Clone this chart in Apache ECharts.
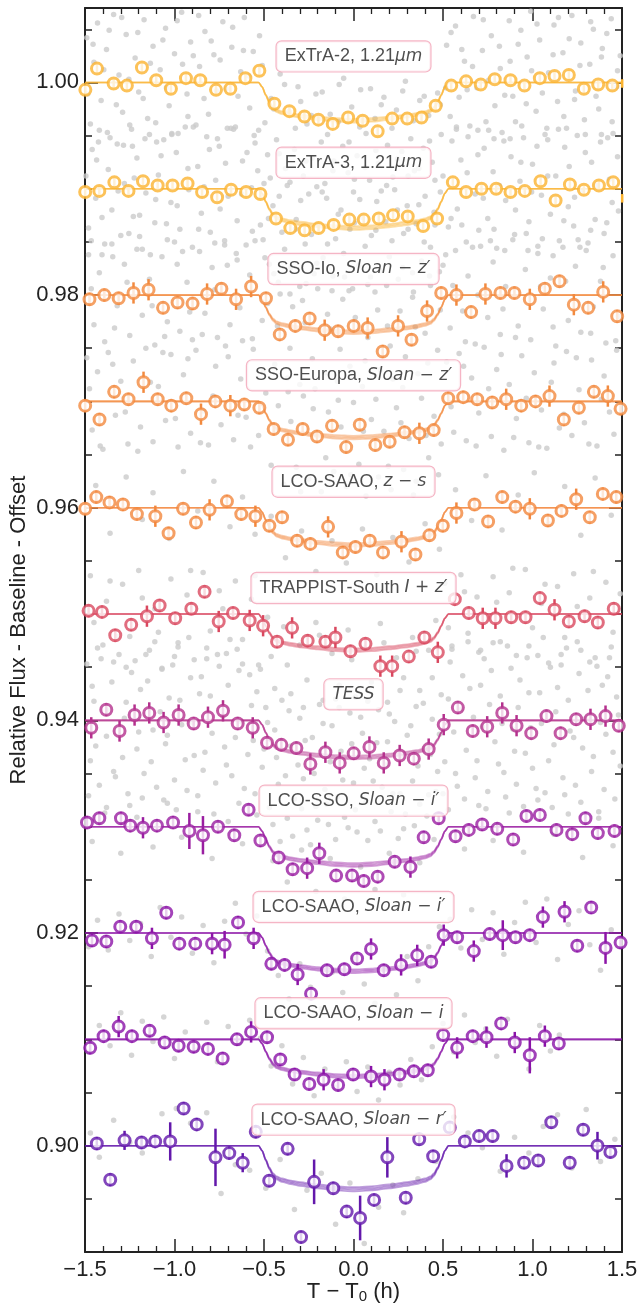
<!DOCTYPE html>
<html><head><meta charset="utf-8">
<script src="https://cdn.jsdelivr.net/npm/echarts@6/dist/echarts.min.js"></script>
<style>html,body{margin:0;padding:0;background:#fff}#c{width:638px;height:1304px}</style>
</head><body><div id="c"></div>
<script>
// ---------------- DATA ----------------
const xTickRange = [-1.5, 1.5];
const yLabelTicks = [0.90, 0.92, 0.94, 0.96, 0.98, 1.00];

const extra2T = [-1.498,-1.433,-1.340,-1.266,-1.182,-1.102,-1.020,-0.936,-0.856,-0.768,-0.688,-0.604,-0.526,-0.442,-0.358,-0.274,-0.196,-0.116,-0.030,0.051,0.135,0.216,0.300,0.380,0.459,0.546,0.629,0.711,0.789,0.877,0.955,1.041,1.123,1.203,1.287,1.367,1.446,1.501];
const extra2F = [0.9993,1.0013,0.9999,0.9997,1.0014,1.0002,0.9994,1.0004,1.0002,0.9993,0.9994,1.0004,1.0011,0.9980,0.9973,0.9968,0.9965,0.9961,0.9967,0.9964,0.9954,0.9966,0.9966,0.9967,0.9978,0.9997,1.0001,0.9998,1.0003,1.0002,0.9997,1.0004,1.0006,1.0007,0.9994,0.9998,0.9997,0.9999];
const extra2E = [0.0004,0.0004,0.0004,0.0004,0.0004,0.0004,0.0004,0.0004,0.0004,0.0004,0.0004,0.0004,0.0004,0.0004,0.0004,0.0004,0.0004,0.0004,0.0004,0.0004,0.0004,0.0004,0.0004,0.0004,0.0004,0.0004,0.0004,0.0004,0.0004,0.0004,0.0004,0.0004,0.0004,0.0004,0.0004,0.0004,0.0004,0.0004];

const extra3T = [-1.499,-1.420,-1.336,-1.257,-1.176,-1.094,-1.011,-0.927,-0.846,-0.762,-0.684,-0.600,-0.520,-0.433,-0.353,-0.273,-0.195,-0.111,-0.023,0.057,0.141,0.221,0.303,0.389,0.467,0.555,0.629,0.715,0.797,0.877,0.957,1.045,1.129,1.209,1.287,1.371,1.451,1.501];
const extra3F = [0.9897,0.9898,0.9906,0.9898,0.9907,0.9903,0.9903,0.9905,0.9897,0.9892,0.9899,0.9897,0.9895,0.9872,0.9863,0.9861,0.9863,0.9866,0.9871,0.9871,0.9872,0.9875,0.9874,0.9865,0.9872,0.9906,0.9897,0.9900,0.9900,0.9897,0.9898,0.9907,0.9889,0.9904,0.9899,0.9903,0.9906,0.9891];
const extra3E = [0.0004,0.0004,0.0004,0.0004,0.0004,0.0004,0.0004,0.0004,0.0004,0.0004,0.0004,0.0004,0.0004,0.0004,0.0004,0.0004,0.0004,0.0004,0.0004,0.0004,0.0004,0.0004,0.0004,0.0004,0.0004,0.0004,0.0004,0.0004,0.0004,0.0004,0.0004,0.0004,0.0004,0.0004,0.0004,0.0004,0.0004,0.0004];

const ioT = [-1.475,-1.392,-1.312,-1.229,-1.145,-1.064,-0.983,-0.899,-0.818,-0.738,-0.656,-0.572,-0.489,-0.412,-0.325,-0.245,-0.161,-0.086,0.001,0.079,0.163,0.249,0.324,0.411,0.490,0.575,0.657,0.737,0.821,0.899,0.985,1.069,1.151,1.231,1.311,1.395,1.473];
const ioF = [0.9796,0.9800,0.9797,0.9802,0.9805,0.9788,0.9793,0.9792,0.9801,0.9806,0.9796,0.9808,0.9797,0.9763,0.9771,0.9778,0.9767,0.9766,0.9771,0.9769,0.9747,0.9771,0.9758,0.9785,0.9802,0.9800,0.9784,0.9801,0.9802,0.9802,0.9796,0.9806,0.9813,0.9791,0.9788,0.9803,0.9780];
const ioE = [0.0006,0.0006,0.0006,0.0010,0.0010,0.0006,0.0006,0.0006,0.0010,0.0006,0.0010,0.0010,0.0006,0.0006,0.0006,0.0006,0.0010,0.0006,0.0006,0.0010,0.0006,0.0010,0.0006,0.0010,0.0006,0.0010,0.0006,0.0010,0.0006,0.0006,0.0010,0.0006,0.0006,0.0010,0.0006,0.0010,0.0006];

const europaT = [-1.499,-1.419,-1.337,-1.257,-1.173,-1.094,-1.018,-0.934,-0.852,-0.772,-0.688,-0.610,-0.526,-0.446,-0.366,-0.284,-0.204,-0.120,-0.041,0.035,0.122,0.202,0.285,0.368,0.448,0.529,0.613,0.691,0.775,0.853,0.937,1.017,1.095,1.175,1.259,1.343,1.421,1.492];
const europaF = [0.9696,0.9683,0.9709,0.9702,0.9718,0.9702,0.9696,0.9703,0.9688,0.9700,0.9696,0.9697,0.9694,0.9674,0.9664,0.9674,0.9667,0.9677,0.9657,0.9678,0.9659,0.9662,0.9671,0.9670,0.9673,0.9703,0.9704,0.9702,0.9699,0.9702,0.9696,0.9700,0.9705,0.9683,0.9694,0.9709,0.9705,0.9693];
const europaE = [0.0006,0.0006,0.0006,0.0006,0.0010,0.0006,0.0006,0.0006,0.0010,0.0006,0.0010,0.0006,0.0006,0.0006,0.0006,0.0006,0.0006,0.0006,0.0006,0.0006,0.0006,0.0006,0.0006,0.0010,0.0006,0.0006,0.0006,0.0006,0.0006,0.0010,0.0006,0.0006,0.0010,0.0006,0.0006,0.0006,0.0010,0.0006];

const zsT = [-1.499,-1.437,-1.363,-1.288,-1.210,-1.107,-1.033,-0.952,-0.880,-0.804,-0.707,-0.627,-0.548,-0.470,-0.399,-0.315,-0.241,-0.142,-0.060,0.011,0.091,0.165,0.268,0.346,0.424,0.499,0.575,0.676,0.752,0.831,0.905,0.985,1.086,1.162,1.244,1.320,1.393,1.468];
const zsF = [0.9599,0.9610,0.9605,0.9603,0.9594,0.9592,0.9576,0.9599,0.9586,0.9598,0.9606,0.9594,0.9592,0.9583,0.9591,0.9569,0.9566,0.9582,0.9558,0.9563,0.9569,0.9558,0.9568,0.9556,0.9574,0.9583,0.9595,0.9603,0.9587,0.9610,0.9601,0.9599,0.9588,0.9597,0.9608,0.9591,0.9613,0.9610];
const zsE = [0.0006,0.0006,0.0006,0.0006,0.0006,0.0010,0.0006,0.0006,0.0006,0.0010,0.0006,0.0006,0.0010,0.0006,0.0006,0.0006,0.0006,0.0010,0.0006,0.0006,0.0006,0.0006,0.0010,0.0006,0.0006,0.0006,0.0010,0.0006,0.0006,0.0006,0.0006,0.0010,0.0006,0.0006,0.0010,0.0006,0.0006,0.0006];

const trapT = [-1.480,-1.405,-1.331,-1.242,-1.154,-1.083,-0.996,-0.906,-0.832,-0.753,-0.673,-0.580,-0.505,-0.427,-0.343,-0.256,-0.157,-0.101,-0.017,0.067,0.150,0.216,0.309,0.396,0.471,0.566,0.644,0.722,0.793,0.881,0.961,1.041,1.123,1.203,1.291,1.365,1.454];
const trapF = [0.9503,0.9502,0.9480,0.9490,0.9498,0.9508,0.9496,0.9505,0.9521,0.9493,0.9501,0.9494,0.9489,0.9474,0.9487,0.9475,0.9474,0.9478,0.9465,0.9472,0.9451,0.9451,0.9460,0.9478,0.9464,0.9514,0.9501,0.9496,0.9496,0.9497,0.9497,0.9515,0.9504,0.9493,0.9498,0.9492,0.9505];
const trapE = [0.0006,0.0006,0.0006,0.0006,0.0010,0.0006,0.0006,0.0006,0.0006,0.0010,0.0006,0.0010,0.0010,0.0006,0.0010,0.0006,0.0006,0.0010,0.0006,0.0006,0.0010,0.0010,0.0006,0.0006,0.0010,0.0006,0.0006,0.0010,0.0010,0.0006,0.0006,0.0006,0.0010,0.0006,0.0006,0.0006,0.0006];

const tessT = [-1.465,-1.381,-1.307,-1.223,-1.141,-1.061,-0.977,-0.893,-0.813,-0.729,-0.647,-0.563,-0.483,-0.403,-0.319,-0.241,-0.157,-0.077,0.001,0.089,0.169,0.258,0.337,0.420,0.504,0.583,0.666,0.747,0.831,0.911,0.993,1.078,1.157,1.244,1.324,1.408,1.482];
const tessF = [0.9393,0.9410,0.9390,0.9405,0.9407,0.9398,0.9405,0.9397,0.9403,0.9409,0.9397,0.9393,0.9379,0.9377,0.9374,0.9359,0.9370,0.9360,0.9369,0.9375,0.9360,0.9367,0.9364,0.9373,0.9396,0.9412,0.9390,0.9394,0.9407,0.9395,0.9388,0.9404,0.9388,0.9401,0.9401,0.9404,0.9395];
const tessE = [0.0010,0.0006,0.0010,0.0010,0.0010,0.0010,0.0010,0.0006,0.0010,0.0010,0.0006,0.0010,0.0006,0.0006,0.0006,0.0010,0.0010,0.0010,0.0006,0.0010,0.0010,0.0010,0.0006,0.0010,0.0010,0.0006,0.0006,0.0010,0.0010,0.0010,0.0006,0.0006,0.0006,0.0006,0.0010,0.0010,0.0006];

const ssoT = [-1.489,-1.420,-1.299,-1.247,-1.176,-1.098,-1.008,-0.917,-0.841,-0.757,-0.666,-0.586,-0.520,-0.418,-0.340,-0.259,-0.191,-0.097,-0.008,0.057,0.135,0.230,0.318,0.392,0.476,0.570,0.644,0.719,0.803,0.892,0.966,1.041,1.134,1.222,1.296,1.365,1.458];
const ssoF = [0.9304,0.9308,0.9308,0.9301,0.9299,0.9301,0.9304,0.9296,0.9292,0.9300,0.9292,0.9316,0.9287,0.9271,0.9260,0.9261,0.9275,0.9254,0.9254,0.9249,0.9253,0.9267,0.9262,0.9290,0.9308,0.9291,0.9297,0.9302,0.9298,0.9288,0.9310,0.9311,0.9297,0.9293,0.9308,0.9294,0.9296];
const ssoE = [0.0006,0.0006,0.0006,0.0006,0.0010,0.0006,0.0006,0.0017,0.0018,0.0006,0.0006,0.0006,0.0006,0.0006,0.0006,0.0010,0.0010,0.0006,0.0006,0.0006,0.0006,0.0006,0.0010,0.0006,0.0006,0.0006,0.0006,0.0006,0.0006,0.0006,0.0006,0.0006,0.0006,0.0006,0.0006,0.0006,0.0006];

const saaoIpT = [-1.461,-1.381,-1.303,-1.214,-1.126,-1.046,-0.973,-0.884,-0.790,-0.720,-0.645,-0.558,-0.459,-0.385,-0.312,-0.237,-0.148,-0.051,0.020,0.098,0.169,0.266,0.356,0.434,0.504,0.579,0.672,0.761,0.834,0.905,0.985,1.058,1.179,1.250,1.328,1.408,1.492];
const saaoIpF = [0.9193,0.9192,0.9206,0.9206,0.9195,0.9219,0.9190,0.9190,0.9190,0.9189,0.9210,0.9195,0.9171,0.9170,0.9161,0.9143,0.9165,0.9166,0.9176,0.9185,0.9165,0.9170,0.9179,0.9173,0.9198,0.9196,0.9183,0.9199,0.9198,0.9196,0.9198,0.9215,0.9220,0.9188,0.9224,0.9186,0.9191];
const saaoIpE = [0.0006,0.0006,0.0006,0.0006,0.0010,0.0006,0.0006,0.0006,0.0010,0.0013,0.0006,0.0010,0.0006,0.0006,0.0010,0.0006,0.0006,0.0006,0.0006,0.0010,0.0006,0.0010,0.0010,0.0006,0.0010,0.0006,0.0010,0.0006,0.0014,0.0006,0.0006,0.0010,0.0010,0.0006,0.0006,0.0015,0.0006];

const saaoIT = [-1.471,-1.396,-1.312,-1.238,-1.139,-1.055,-0.977,-0.893,-0.813,-0.731,-0.651,-0.572,-0.483,-0.409,-0.329,-0.247,-0.167,-0.086,-0.002,0.098,0.173,0.257,0.337,0.415,0.501,0.579,0.666,0.743,0.825,0.901,0.985,1.069,1.147];
const saaoIF = [0.9092,0.9103,0.9112,0.9103,0.9108,0.9097,0.9094,0.9093,0.9091,0.9082,0.9100,0.9107,0.9102,0.9081,0.9067,0.9058,0.9062,0.9057,0.9067,0.9065,0.9062,0.9067,0.9070,0.9071,0.9104,0.9092,0.9103,0.9102,0.9115,0.9097,0.9085,0.9103,0.9096];
const saaoIE = [0.0006,0.0006,0.0010,0.0006,0.0006,0.0006,0.0006,0.0006,0.0006,0.0006,0.0006,0.0010,0.0006,0.0006,0.0006,0.0006,0.0010,0.0006,0.0006,0.0010,0.0010,0.0006,0.0006,0.0006,0.0006,0.0010,0.0006,0.0010,0.0006,0.0010,0.0017,0.0010,0.0006];

const saaoRT = [-1.434,-1.359,-1.279,-1.184,-1.108,-1.024,-0.949,-0.876,-0.771,-0.694,-0.619,-0.546,-0.471,-0.368,-0.293,-0.220,-0.113,-0.038,0.037,0.115,0.189,0.292,0.367,0.445,0.538,0.622,0.702,0.777,0.855,0.953,1.032,1.105,1.208,1.283,1.363,1.435];
const saaoRF = [0.9002,0.8968,0.9005,0.9003,0.9004,0.9004,0.9035,0.9020,0.8989,0.8993,0.8984,0.9013,0.8967,0.8997,0.8914,0.8966,0.8960,0.8938,0.8932,0.8949,0.8989,0.8951,0.9006,0.8990,0.9017,0.9004,0.9009,0.9009,0.8981,0.8984,0.8986,0.9022,0.8984,0.9015,0.9000,0.8994];
const saaoRE = [0.0006,0.0006,0.0009,0.0006,0.0006,0.0018,0.0006,0.0006,0.0027,0.0006,0.0009,0.0006,0.0006,0.0006,0.0006,0.0021,0.0006,0.0006,0.0021,0.0006,0.0019,0.0006,0.0006,0.0006,0.0006,0.0006,0.0006,0.0006,0.0011,0.0006,0.0006,0.0006,0.0006,0.0006,0.0013,0.0006];

// unbinned (grey) points [t, flux]
const extra2Gray = [[-1.49,1.0042],[-1.47,0.9961],[-1.45,1.0019],[-1.43,1.0056],[-1.41,0.9983],[-1.38,1.0031],[-1.36,0.9948],[-1.34,1.0064],[-1.31,1.0007],[-1.29,0.9972],[-1.27,1.0045],[-1.24,0.9956],[-1.22,1.0023],[-1.20,0.9991],[-1.17,1.0059],[-1.15,0.9966],[-1.12,1.0034],[-1.10,0.9944],[-1.08,1.0012],[-1.05,1.0051],[-1.03,0.9978],[-1.00,1.0027],[-0.98,0.9952],[-0.96,1.0066],[-0.93,0.9989],[-0.91,1.0038],[-0.88,0.9960],[-0.86,1.0015],[-0.83,1.0048],[-0.81,0.9970],[-0.78,1.0026],[-0.76,0.9947],[-0.73,1.0057],[-0.71,0.9994],[-0.68,1.0033],[-0.66,0.9958],[-0.63,1.0010],[-0.61,1.0061],[-0.58,0.9976],[-0.56,1.0029],[-0.53,0.9955],[-0.51,1.0016],[-0.48,0.9932],[-0.46,0.9985],[-0.43,0.9946],[-0.41,1.0008],[-0.38,0.9919],[-0.36,0.9973],[-0.33,0.9937],[-0.31,0.9996],[-0.28,0.9912],[-0.26,0.9961],[-0.23,0.9929],[-0.21,0.9989],[-0.18,0.9944],[-0.16,0.9905],[-0.13,0.9970],[-0.11,0.9926],[-0.08,0.9998],[-0.06,0.9940],[-0.03,0.9915],[-0.01,0.9977],[0.02,0.9931],[0.04,0.9993],[0.07,0.9952],[0.09,0.9908],[0.12,0.9966],[0.14,0.9924],[0.17,0.9986],[0.19,0.9941],[0.22,0.9911],[0.24,0.9974],[0.27,0.9935],[0.29,1.0001],[0.32,0.9947],[0.34,0.9917],[0.37,0.9983],[0.39,0.9938],[0.42,0.9969],[0.44,0.9925],[0.47,0.9990],[0.49,0.9951],[0.52,1.0035],[0.54,0.9968],[0.57,1.0053],[0.59,0.9986],[0.62,1.0020],[0.64,0.9949],[0.67,1.0062],[0.69,0.9995],[0.72,1.0030],[0.74,0.9963],[0.77,1.0044],[0.79,0.9978],[0.82,1.0013],[0.84,0.9945],[0.87,1.0058],[0.89,0.9987],[0.92,1.0036],[0.94,0.9959],[0.97,1.0024],[0.99,1.0067],[1.02,0.9973],[1.04,1.0040],[1.07,0.9951],[1.09,1.0009],[1.12,1.0054],[1.14,0.9982],[1.17,1.0028],[1.19,0.9957],[1.22,1.0063],[1.24,0.9992],[1.27,1.0037],[1.29,0.9965],[1.32,1.0017],[1.34,1.0050],[1.37,0.9975],[1.39,1.0032],[1.42,0.9948],[1.44,1.0060],[1.47,0.9996],[1.49,1.0025]];
const extra2Gray2 = [[-1.485,0.9989],[-1.455,1.0036],[-1.425,0.9944],[-1.395,1.0012],[-1.365,1.0049],[-1.325,0.9979],[-1.295,1.0061],[-1.255,1.0003],[-1.235,0.9940],[-1.205,1.0047],[-1.175,0.9985],[-1.135,1.0018],[-1.105,0.9962],[-1.065,1.0040],[-1.045,0.9995],[-1.015,0.9951],[-0.985,1.0058],[-0.955,1.0017],[-0.925,0.9968],[-0.895,1.0025],[-0.865,1.0063],[-0.835,0.9985],[-0.795,1.0039],[-0.765,0.9992],[-0.745,1.0021],[-0.705,0.9957],[-0.675,1.0052],[-0.645,0.9987],[-0.615,1.0030],[-0.585,1.0006],[-0.555,0.9950],[-0.525,1.0044],[-0.495,0.9962],[-0.465,0.9910],[-0.445,0.9975],[-0.415,0.9933],[-0.385,0.9998],[-0.355,0.9906],[-0.325,0.9957],[-0.295,0.9982],[-0.265,0.9926],[-0.235,0.9969],[-0.205,0.9902],[-0.175,0.9991],[-0.145,0.9951],[-0.115,0.9917],[-0.085,0.9963],[-0.055,1.0004],[-0.025,0.9944],[0.005,0.9909],[0.035,0.9958],[0.065,0.9920],[0.095,0.9994],[0.125,0.9936],[0.155,0.9979],[0.185,0.9903],[0.215,0.9957],[0.245,0.9928],[0.275,0.9992],[0.305,0.9912],[0.335,0.9964],[0.365,0.9919],[0.395,0.9987],[0.425,0.9945],[0.455,0.9908],[0.485,0.9979],[0.515,0.9995],[0.545,1.0047],[0.575,0.9958],[0.605,1.0031],[0.635,0.9993],[0.665,1.0015],[0.695,0.9955],[0.725,1.0059],[0.755,1.0002],[0.785,0.9947],[0.815,1.0034],[0.845,0.9988],[0.875,1.0020],[0.905,0.9963],[0.935,1.0049],[0.965,0.9980],[0.995,1.0011],[1.025,1.0055],[1.055,0.9990],[1.085,0.9946],[1.115,1.0026],[1.145,1.0061],[1.175,0.9968],[1.205,1.0041],[1.235,0.9984],[1.265,1.0016],[1.295,0.9951],[1.325,1.0057],[1.355,0.9987],[1.385,1.0024],[1.415,1.0046],[1.445,0.9963],[1.475,1.0011]];
const extra3Gray = [[-1.48,0.9863],[-1.46,0.9937],[-1.44,0.9891],[-1.42,0.9955],[-1.39,0.9848],[-1.37,0.9918],[-1.35,0.9880],[-1.32,0.9942],[-1.30,0.9856],[-1.28,0.9905],[-1.25,0.9960],[-1.23,0.9874],[-1.21,0.9929],[-1.18,0.9843],[-1.16,0.9896],[-1.14,0.9951],[-1.11,0.9868],[-1.09,0.9913],[-1.06,0.9946],[-1.04,0.9852],[-1.02,0.9887],[-0.99,0.9934],[-0.97,0.9862],[-0.94,0.9958],[-0.92,0.9899],[-0.90,0.9845],[-0.87,0.9921],[-0.85,0.9877],[-0.82,0.9949],[-0.80,0.9859],[-0.77,0.9908],[-0.75,0.9940],[-0.72,0.9851],[-0.70,0.9893],[-0.67,0.9956],[-0.65,0.9870],[-0.62,0.9926],[-0.60,0.9847],[-0.57,0.9901],[-0.55,0.9943],[-0.52,0.9866],[-0.50,0.9905],[-0.47,0.9829],[-0.45,0.9884],[-0.42,0.9812],[-0.40,0.9859],[-0.37,0.9903],[-0.35,0.9826],[-0.32,0.9871],[-0.30,0.9808],[-0.27,0.9848],[-0.25,0.9895],[-0.22,0.9820],[-0.20,0.9866],[-0.17,0.9835],[-0.15,0.9891],[-0.12,0.9804],[-0.10,0.9853],[-0.07,0.9880],[-0.05,0.9817],[-0.02,0.9862],[0.00,0.9897],[0.03,0.9828],[0.05,0.9873],[0.08,0.9810],[0.10,0.9856],[0.13,0.9888],[0.15,0.9823],[0.18,0.9869],[0.20,0.9836],[0.23,0.9899],[0.25,0.9815],[0.28,0.9858],[0.30,0.9884],[0.33,0.9821],[0.35,0.9867],[0.38,0.9832],[0.40,0.9893],[0.43,0.9845],[0.45,0.9878],[0.48,0.9822],[0.50,0.9912],[0.53,0.9864],[0.55,0.9945],[0.58,0.9881],[0.60,0.9927],[0.63,0.9850],[0.65,0.9959],[0.68,0.9895],[0.70,0.9861],[0.73,0.9938],[0.75,0.9872],[0.78,0.9916],[0.80,0.9844],[0.83,0.9953],[0.85,0.9889],[0.88,0.9930],[0.90,0.9857],[0.93,0.9907],[0.95,0.9948],[0.98,0.9869],[1.00,0.9923],[1.03,0.9846],[1.05,0.9894],[1.08,0.9957],[1.10,0.9876],[1.13,0.9912],[1.15,0.9851],[1.18,0.9939],[1.20,0.9883],[1.23,0.9865],[1.25,0.9950],[1.28,0.9898],[1.30,0.9842],[1.33,0.9925],[1.35,0.9871],[1.38,0.9944],[1.40,0.9858],[1.43,0.9909],[1.45,0.9952],[1.48,0.9879]];
const extra3Gray2 = [[-1.495,0.9912],[-1.465,0.9851],[-1.435,0.9927],[-1.405,0.9873],[-1.375,0.9953],[-1.345,0.9836],[-1.315,0.9898],[-1.285,0.9941],[-1.255,0.9858],[-1.225,0.9910],[-1.195,0.9875],[-1.165,0.9947],[-1.135,0.9838],[-1.105,0.9890],[-1.075,0.9931],[-1.045,0.9867],[-1.015,0.9952],[-0.985,0.9884],[-0.955,0.9841],[-0.925,0.9919],[-0.895,0.9958],[-0.865,0.9862],[-0.835,0.9902],[-0.805,0.9937],[-0.775,0.9849],[-0.745,0.9881],[-0.715,0.9924],[-0.685,0.9957],[-0.655,0.9839],[-0.625,0.9895],[-0.595,0.9934],[-0.565,0.9860],[-0.535,0.9917],[-0.505,0.9852],[-0.475,0.9872],[-0.445,0.9820],[-0.415,0.9893],[-0.385,0.9843],[-0.355,0.9801],[-0.325,0.9862],[-0.295,0.9889],[-0.265,0.9811],[-0.235,0.9857],[-0.205,0.9830],[-0.175,0.9897],[-0.145,0.9848],[-0.115,0.9818],[-0.085,0.9876],[-0.055,0.9839],[-0.025,0.9804],[0.005,0.9868],[0.035,0.9890],[0.065,0.9846],[0.095,0.9817],[0.125,0.9861],[0.155,0.9898],[0.185,0.9809],[0.215,0.9851],[0.245,0.9880],[0.275,0.9826],[0.305,0.9862],[0.335,0.9803],[0.365,0.9885],[0.395,0.9850],[0.425,0.9818],[0.455,0.9866],[0.485,0.9897],[0.515,0.9838],[0.545,0.9872],[0.575,0.9956],[0.605,0.9866],[0.635,0.9915],[0.665,0.9845],[0.695,0.9932],[0.725,0.9891],[0.755,0.9955],[0.785,0.9862],[0.815,0.9903],[0.845,0.9842],[0.875,0.9947],[0.905,0.9880],[0.935,0.9925],[0.965,0.9858],[0.995,0.9897],[1.025,0.9940],[1.055,0.9853],[1.085,0.9912],[1.115,0.9837],[1.145,0.9956],[1.175,0.9870],[1.205,0.9921],[1.235,0.9892],[1.265,0.9845],[1.295,0.9934],[1.325,0.9861],[1.355,0.9903],[1.385,0.9951],[1.415,0.9868],[1.445,0.9887],[1.475,0.9930]];
const ioGray = [[-1.48,0.9838],[-1.45,0.9772],[-1.42,0.9821],[-1.39,0.9756],[-1.35,0.9848],[-1.32,0.9790],[-1.28,0.9829],[-1.25,0.9762],[-1.21,0.9843],[-1.18,0.9781],[-1.14,0.9815],[-1.11,0.9753],[-1.07,0.9836],[-1.04,0.9775],[-1.00,0.9850],[-0.97,0.9766],[-0.93,0.9812],[-0.90,0.9758],[-0.86,0.9841],[-0.83,0.9783],[-0.79,0.9826],[-0.76,0.9760],[-0.72,0.9847],[-0.69,0.9772],[-0.65,0.9833],[-0.62,0.9757],[-0.58,0.9819],[-0.55,0.9851],[-0.51,0.9776],[-0.48,0.9792],[-0.44,0.9735],[-0.41,0.9801],[-0.37,0.9722],[-0.34,0.9789],[-0.30,0.9716],[-0.27,0.9774],[-0.23,0.9740],[-0.20,0.9806],[-0.16,0.9727],[-0.13,0.9768],[-0.09,0.9719],[-0.06,0.9796],[-0.02,0.9733],[0.01,0.9779],[0.05,0.9714],[0.08,0.9760],[0.12,0.9803],[0.15,0.9730],[0.19,0.9771],[0.22,0.9721],[0.26,0.9785],[0.29,0.9742],[0.33,0.9798],[0.36,0.9726],[0.40,0.9764],[0.43,0.9809],[0.47,0.9748],[0.50,0.9828],[0.54,0.9769],[0.57,0.9842],[0.61,0.9785],[0.64,0.9818],[0.68,0.9754],[0.71,0.9846],[0.75,0.9779],[0.78,0.9831],[0.82,0.9763],[0.85,0.9808],[0.89,0.9852],[0.92,0.9771],[0.96,0.9824],[0.99,0.9758],[1.03,0.9839],[1.06,0.9787],[1.10,0.9816],[1.13,0.9752],[1.17,0.9845],[1.20,0.9776],[1.24,0.9827],[1.27,0.9765],[1.31,0.9849],[1.34,0.9789],[1.38,0.9813],[1.41,0.9755],[1.45,0.9837],[1.48,0.9780]];
const ioGray2 = [[-1.465,0.9806],[-1.405,0.9838],[-1.335,0.9769],[-1.265,0.9812],[-1.195,0.9855],[-1.125,0.9790],[-1.055,0.9761],[-0.985,0.9829],[-0.915,0.9784],[-0.845,0.9763],[-0.775,0.9805],[-0.705,0.9828],[-0.635,0.9788],[-0.565,0.9759],[-0.495,0.9835],[-0.425,0.9771],[-0.355,0.9750],[-0.285,0.9795],[-0.215,0.9712],[-0.145,0.9782],[-0.075,0.9749],[-0.005,0.9806],[0.065,0.9738],[0.135,0.9786],[0.205,0.9752],[0.275,0.9713],[0.345,0.9770],[0.415,0.9736],[0.485,0.9786],[0.555,0.9809],[0.625,0.9756],[0.695,0.9800],[0.765,0.9851],[0.835,0.9787],[0.905,0.9760],[0.975,0.9842],[1.045,0.9808],[1.115,0.9770],[1.185,0.9813],[1.255,0.9852],[1.325,0.9764],[1.395,0.9826],[1.465,0.9757]];
const europaGray = [[-1.49,0.9741],[-1.46,0.9673],[-1.43,0.9728],[-1.40,0.9655],[-1.37,0.9746],[-1.33,0.9687],[-1.30,0.9719],[-1.26,0.9660],[-1.23,0.9738],[-1.19,0.9676],[-1.16,0.9750],[-1.12,0.9662],[-1.09,0.9714],[-1.05,0.9682],[-1.02,0.9744],[-0.98,0.9657],[-0.95,0.9725],[-0.91,0.9670],[-0.88,0.9748],[-0.84,0.9691],[-0.81,0.9659],[-0.77,0.9733],[-0.74,0.9678],[-0.70,0.9742],[-0.67,0.9664],[-0.63,0.9721],[-0.60,0.9685],[-0.56,0.9749],[-0.53,0.9668],[-0.49,0.9708],[-0.46,0.9640],[-0.42,0.9696],[-0.39,0.9622],[-0.35,0.9681],[-0.32,0.9638],[-0.28,0.9705],[-0.25,0.9627],[-0.21,0.9669],[-0.18,0.9615],[-0.14,0.9690],[-0.11,0.9634],[-0.07,0.9676],[-0.04,0.9620],[0.00,0.9699],[0.03,0.9641],[0.07,0.9611],[0.10,0.9683],[0.14,0.9629],[0.17,0.9672],[0.21,0.9617],[0.24,0.9694],[0.28,0.9636],[0.31,0.9665],[0.35,0.9625],[0.38,0.9703],[0.42,0.9647],[0.45,0.9686],[0.49,0.9660],[0.52,0.9737],[0.56,0.9671],[0.59,0.9745],[0.63,0.9663],[0.66,0.9722],[0.70,0.9689],[0.73,0.9751],[0.77,0.9667],[0.80,0.9730],[0.84,0.9654],[0.87,0.9716],[0.91,0.9684],[0.94,0.9743],[0.98,0.9661],[1.01,0.9727],[1.05,0.9692],[1.08,0.9656],[1.12,0.9736],[1.15,0.9675],[1.19,0.9747],[1.22,0.9668],[1.26,0.9711],[1.29,0.9680],[1.33,0.9739],[1.36,0.9658],[1.40,0.9724],[1.43,0.9690],[1.47,0.9748]];
const europaGray2 = [[-1.475,0.9712],[-1.415,0.9658],[-1.345,0.9735],[-1.275,0.9690],[-1.205,0.9653],[-1.135,0.9718],[-1.065,0.9746],[-0.995,0.9684],[-0.925,0.9740],[-0.855,0.9661],[-0.785,0.9705],[-0.715,0.9752],[-0.645,0.9687],[-0.575,0.9657],[-0.505,0.9728],[-0.435,0.9673],[-0.365,0.9709],[-0.295,0.9615],[-0.225,0.9693],[-0.155,0.9647],[-0.085,0.9701],[-0.015,0.9631],[0.055,0.9672],[0.125,0.9702],[0.195,0.9639],[0.265,0.9680],[0.335,0.9612],[0.405,0.9668],[0.475,0.9631],[0.545,0.9695],[0.615,0.9733],[0.685,0.9658],[0.755,0.9712],[0.825,0.9744],[0.895,0.9666],[0.965,0.9703],[1.035,0.9657],[1.105,0.9718],[1.175,0.9688],[1.245,0.9741],[1.315,0.9660],[1.385,0.9702],[1.455,0.9669]];
const zsGray = [[-1.44,0.9621],[-1.36,0.9576],[-1.27,0.9629],[-1.18,0.9589],[-1.12,0.9614],[-1.03,0.9571],[-0.95,0.9634],[-0.87,0.9597],[-0.78,0.9625],[-0.69,0.9582],[-0.62,0.9610],[-0.55,0.9575],[-0.46,0.9592],[-0.38,0.9553],[-0.29,0.9578],[-0.21,0.9540],[-0.12,0.9569],[-0.04,0.9548],[0.05,0.9580],[0.13,0.9537],[0.22,0.9572],[0.31,0.9549],[0.40,0.9585],[0.48,0.9561],[0.57,0.9617],[0.66,0.9588],[0.74,0.9630],[0.83,0.9579],[0.92,0.9612],[1.01,0.9633],[1.09,0.9585],[1.18,0.9620],[1.27,0.9574],[1.35,0.9628],[1.44,0.9593]];
const trapGray = [[-1.47,0.9536],[-1.43,0.9468],[-1.38,0.9512],[-1.34,0.9455],[-1.29,0.9528],[-1.25,0.9479],[-1.20,0.9541],[-1.16,0.9462],[-1.11,0.9505],[-1.07,0.9449],[-1.02,0.9533],[-0.98,0.9473],[-0.93,0.9518],[-0.89,0.9457],[-0.84,0.9539],[-0.80,0.9484],[-0.75,0.9522],[-0.71,0.9463],[-0.66,0.9531],[-0.62,0.9476],[-0.57,0.9514],[-0.53,0.9452],[-0.48,0.9497],[-0.44,0.9430],[-0.39,0.9488],[-0.35,0.9425],[-0.30,0.9471],[-0.26,0.9438],[-0.21,0.9492],[-0.17,0.9419],[-0.12,0.9463],[-0.08,0.9433],[-0.03,0.9485],[0.01,0.9422],[0.06,0.9468],[0.10,0.9436],[0.15,0.9491],[0.19,0.9417],[0.24,0.9459],[0.28,0.9440],[0.33,0.9478],[0.37,0.9428],[0.42,0.9466],[0.46,0.9494],[0.51,0.9529],[0.55,0.9470],[0.60,0.9537],[0.64,0.9482],[0.69,0.9516],[0.73,0.9458],[0.78,0.9535],[0.82,0.9474],[0.87,0.9520],[0.91,0.9461],[0.96,0.9542],[1.00,0.9487],[1.05,0.9510],[1.09,0.9454],[1.14,0.9526],[1.18,0.9478],[1.23,0.9538],[1.27,0.9466],[1.32,0.9515],[1.36,0.9451],[1.41,0.9530],[1.45,0.9483],[1.49,0.9519]];
const trapGray2 = [[-1.45,0.9492],[-1.36,0.9531],[-1.27,0.9450],[-1.18,0.9515],[-1.09,0.9483],[-1.00,0.9460],[-0.91,0.9541],[-0.82,0.9468],[-0.73,0.9505],[-0.64,0.9447],[-0.55,0.9536],[-0.46,0.9460],[-0.37,0.9452],[-0.28,0.9412],[-0.19,0.9480],[-0.10,0.9420],[-0.01,0.9457],[0.08,0.9418],[0.17,0.9473],[0.26,0.9428],[0.35,0.9465],[0.44,0.9440],[0.53,0.9487],[0.62,0.9521],[0.71,0.9466],[0.80,0.9511],[0.89,0.9543],[0.98,0.9470],[1.07,0.9528],[1.16,0.9462],[1.25,0.9507],[1.34,0.9540],[1.43,0.9459]];
const tessGray = [[-1.49,0.9453],[-1.47,0.9362],[-1.45,0.9418],[-1.42,0.9339],[-1.40,0.9471],[-1.38,0.9385],[-1.35,0.9436],[-1.33,0.9347],[-1.31,0.9462],[-1.28,0.9402],[-1.26,0.9331],[-1.24,0.9445],[-1.21,0.9373],[-1.19,0.9429],[-1.17,0.9350],[-1.14,0.9466],[-1.12,0.9391],[-1.10,0.9337],[-1.07,0.9448],[-1.05,0.9378],[-1.03,0.9421],[-1.00,0.9344],[-0.98,0.9469],[-0.96,0.9396],[-0.93,0.9334],[-0.91,0.9440],[-0.89,0.9367],[-0.86,0.9425],[-0.84,0.9353],[-0.82,0.9458],[-0.79,0.9388],[-0.77,0.9341],[-0.75,0.9451],[-0.72,0.9375],[-0.70,0.9433],[-0.68,0.9348],[-0.65,0.9467],[-0.63,0.9399],[-0.61,0.9336],[-0.58,0.9443],[-0.56,0.9381],[-0.54,0.9427],[-0.51,0.9356],[-0.49,0.9412],[-0.47,0.9318],[-0.44,0.9391],[-0.42,0.9340],[-0.40,0.9419],[-0.37,0.9308],[-0.35,0.9376],[-0.33,0.9326],[-0.30,0.9402],[-0.28,0.9345],[-0.26,0.9297],[-0.23,0.9384],[-0.21,0.9319],[-0.19,0.9415],[-0.16,0.9335],[-0.14,0.9302],[-0.12,0.9395],[-0.09,0.9328],[-0.07,0.9371],[-0.05,0.9309],[-0.02,0.9407],[0.00,0.9341],[0.02,0.9295],[0.05,0.9388],[0.07,0.9323],[0.09,0.9364],[0.12,0.9305],[0.14,0.9410],[0.16,0.9337],[0.19,0.9380],[0.21,0.9314],[0.23,0.9399],[0.26,0.9331],[0.28,0.9298],[0.30,0.9386],[0.33,0.9343],[0.35,0.9413],[0.37,0.9321],[0.40,0.9374],[0.42,0.9330],[0.44,0.9401],[0.47,0.9352],[0.49,0.9424],[0.51,0.9361],[0.54,0.9455],[0.56,0.9389],[0.58,0.9338],[0.61,0.9442],[0.63,0.9372],[0.65,0.9430],[0.68,0.9346],[0.70,0.9464],[0.72,0.9394],[0.75,0.9333],[0.77,0.9447],[0.79,0.9380],[0.82,0.9423],[0.84,0.9351],[0.86,0.9470],[0.89,0.9392],[0.91,0.9340],[0.93,0.9438],[0.96,0.9369],[0.98,0.9426],[1.00,0.9355],[1.03,0.9461],[1.05,0.9397],[1.07,0.9332],[1.10,0.9450],[1.12,0.9377],[1.14,0.9431],[1.17,0.9346],[1.19,0.9468],[1.21,0.9390],[1.24,0.9339],[1.26,0.9444],[1.28,0.9374],[1.31,0.9428],[1.33,0.9352],[1.35,0.9459],[1.38,0.9398],[1.40,0.9335],[1.42,0.9441],[1.45,0.9370],[1.47,0.9422],[1.49,0.9357]];
const tessGray2 = [[-1.48,0.9329],[-1.46,0.9432],[-1.44,0.9376],[-1.41,0.9458],[-1.39,0.9313],[-1.37,0.9409],[-1.34,0.9352],[-1.32,0.9479],[-1.29,0.9365],[-1.27,0.9417],[-1.25,0.9320],[-1.22,0.9456],[-1.20,0.9389],[-1.18,0.9327],[-1.15,0.9437],[-1.13,0.9361],[-1.11,0.9474],[-1.08,0.9408],[-1.06,0.9325],[-1.04,0.9386],[-1.01,0.9452],[-0.99,0.9316],[-0.97,0.9419],[-0.94,0.9363],[-0.92,0.9478],[-0.90,0.9398],[-0.87,0.9329],[-0.85,0.9441],[-0.83,0.9370],[-0.80,0.9423],[-0.78,0.9312],[-0.76,0.9462],[-0.73,0.9404],[-0.71,0.9358],[-0.69,0.9476],[-0.66,0.9384],[-0.64,0.9322],[-0.62,0.9453],[-0.59,0.9368],[-0.57,0.9414],[-0.55,0.9331],[-0.52,0.9448],[-0.50,0.9373],[-0.48,0.9398],[-0.45,0.9302],[-0.43,0.9365],[-0.41,0.9286],[-0.38,0.9348],[-0.36,0.9409],[-0.34,0.9291],[-0.31,0.9358],[-0.29,0.9317],[-0.27,0.9381],[-0.24,0.9283],[-0.22,0.9350],[-0.20,0.9306],[-0.17,0.9397],[-0.15,0.9321],[-0.13,0.9361],[-0.10,0.9288],[-0.08,0.9412],[-0.06,0.9344],[-0.03,0.9299],[-0.01,0.9378],[0.01,0.9316],[0.04,0.9403],[0.06,0.9355],[0.08,0.9287],[0.11,0.9343],[0.13,0.9379],[0.15,0.9296],[0.18,0.9358],[0.20,0.9406],[0.22,0.9331],[0.25,0.9289],[0.27,0.9366],[0.29,0.9312],[0.32,0.9395],[0.34,0.9301],[0.36,0.9357],[0.39,0.9416],[0.41,0.9310],[0.43,0.9368],[0.46,0.9333],[0.48,0.9387],[0.50,0.9331],[0.53,0.9420],[0.55,0.9467],[0.57,0.9350],[0.60,0.9410],[0.62,0.9326],[0.64,0.9474],[0.67,0.9403],[0.69,0.9362],[0.71,0.9433],[0.74,0.9317],[0.76,0.9415],[0.78,0.9473],[0.81,0.9359],[0.83,0.9397],[0.85,0.9328],[0.88,0.9449],[0.90,0.9371],[0.92,0.9412],[0.95,0.9319],[0.97,0.9459],[0.99,0.9393],[1.02,0.9336],[1.04,0.9426],[1.06,0.9478],[1.09,0.9362],[1.11,0.9318],[1.13,0.9408],[1.16,0.9452],[1.18,0.9330],[1.20,0.9419],[1.23,0.9384],[1.25,0.9474],[1.27,0.9323],[1.30,0.9401],[1.32,0.9455],[1.34,0.9366],[1.37,0.9314],[1.39,0.9433],[1.41,0.9387],[1.44,0.9469],[1.46,0.9326],[1.48,0.9405]];
const ssoGray = [[-1.46,0.9286],[-1.38,0.9318],[-1.30,0.9275],[-1.21,0.9309],[-1.12,0.9281],[-1.04,0.9322],[-0.96,0.9290],[-0.87,0.9314],[-0.79,0.9270],[-0.70,0.9305],[-0.62,0.9284],[-0.54,0.9311],[-0.45,0.9268],[-0.37,0.9248],[-0.29,0.9278],[-0.21,0.9239],[-0.13,0.9270],[-0.05,0.9232],[0.04,0.9262],[0.12,0.9241],[0.20,0.9275],[0.28,0.9236],[0.37,0.9266],[0.45,0.9288],[0.53,0.9316],[0.62,0.9279],[0.70,0.9320],[0.78,0.9287],[0.87,0.9313],[0.95,0.9276],[1.03,0.9325],[1.12,0.9293],[1.20,0.9312],[1.28,0.9271],[1.37,0.9308],[1.45,0.9282]];
const saaoIpGray = [[-1.48,0.9187],[-1.43,0.9212],[-1.37,0.9184],[-1.31,0.9218],[-1.25,0.9193],[-1.19,0.9209],[-1.13,0.9178],[-1.08,0.9224],[-1.02,0.9196],[-0.96,0.9215],[-0.90,0.9181],[-0.84,0.9207],[-0.78,0.9172],[-0.72,0.9211],[-0.66,0.9228],[-0.60,0.9199],[-0.54,0.9216],[-0.48,0.9183],[-0.42,0.9160],[-0.36,0.9138],[-0.30,0.9171],[-0.24,0.9149],[-0.18,0.9129],[-0.12,0.9163],[-0.06,0.9144],[0.00,0.9176],[0.06,0.9152],[0.12,0.9134],[0.18,0.9168],[0.24,0.9142],[0.30,0.9178],[0.36,0.9155],[0.42,0.9187],[0.48,0.9206],[0.54,0.9213],[0.60,0.9186],[0.66,0.9222],[0.72,0.9194],[0.78,0.9219],[0.84,0.9180],[0.90,0.9210],[0.96,0.9229],[1.02,0.9191],[1.08,0.9232],[1.14,0.9175],[1.20,0.9208],[1.26,0.9221],[1.32,0.9189],[1.38,0.9165],[1.44,0.9203]];
const saaoIGray = [[-1.48,0.9088],[-1.42,0.9113],[-1.36,0.9094],[-1.30,0.9125],[-1.24,0.9085],[-1.18,0.9117],[-1.12,0.9098],[-1.06,0.9121],[-1.00,0.9082],[-0.94,0.9107],[-0.88,0.9090],[-0.82,0.9116],[-0.76,0.9079],[-0.70,0.9112],[-0.64,0.9096],[-0.58,0.9118],[-0.52,0.9101],[-0.46,0.9075],[-0.40,0.9094],[-0.34,0.9058],[-0.28,0.9083],[-0.22,0.9047],[-0.16,0.9072],[-0.10,0.9055],[-0.04,0.9079],[0.02,0.9051],[0.08,0.9074],[0.14,0.9043],[0.20,0.9069],[0.26,0.9057],[0.32,0.9081],[0.38,0.9062],[0.44,0.9093],[0.50,0.9115],[0.56,0.9088],[0.62,0.9123],[0.68,0.9097],[0.74,0.9110],[0.80,0.9084],[0.86,0.9119],[0.92,0.9095],[0.98,0.9072],[1.04,0.9113],[1.10,0.9089],[1.15,0.9104]];
const saaoRGray = [[-1.47,0.9012],[-1.42,0.8989],[-1.34,0.9024],[-1.25,0.9003],[-1.18,0.8993],[-1.07,0.9030],[-0.99,0.9035],[-0.91,0.9021],[-0.82,0.9031],[-0.74,0.8955],[-0.66,0.8982],[-0.58,0.8977],[-0.49,0.8960],[-0.41,0.8987],[-0.33,0.8940],[-0.26,0.8958],[-0.18,0.8974],[-0.10,0.8926],[-0.02,0.8965],[0.06,0.8908],[0.14,0.8942],[0.22,0.8963],[0.28,0.8937],[0.36,0.8969],[0.46,0.8985],[0.56,0.9027],[0.64,0.9012],[0.72,0.8998],[0.82,0.8976],[0.90,0.9008],[0.98,0.8993],[1.06,0.9018],[1.14,0.9029],[1.22,0.8979],[1.30,0.9034],[1.38,0.8985],[1.46,0.9006]];

// transit model template (time, fraction of full depth)
const modelT = [-1.5,-0.53,-0.51,-0.49,-0.47,-0.45,-0.43,-0.40,-0.35,-0.30,-0.20,-0.10,0.00,0.10,0.20,0.30,0.35,0.40,0.43,0.45,0.47,0.49,0.51,0.53,1.5];
const modelShape = [0,0,0.12,0.33,0.52,0.66,0.74,0.79,0.84,0.88,0.935,0.98,1,0.98,0.935,0.88,0.84,0.79,0.74,0.66,0.52,0.33,0.12,0,0];
const modelSpread = [0.95,0.983,1.017,1.05];

const baselines = [1.00,0.99,0.98,0.97,0.96,0.95,0.94,0.93,0.92,0.91,0.90];
const depths = [0.0036,0.0037,0.0035,0.0034,0.0035,0.0034,0.0035,0.0036,0.0036,0.0035,0.0041];
const labels = ['ExTrA-2, 1.21{i|μm}','ExTrA-3, 1.21{i|μm}','SSO-Io, {i|Sloan − z′}','SSO-Europa, {i|Sloan − z′}','LCO-SAAO, {i|z − s}','TRAPPIST-South {i|I + z′}','{i|TESS}','LCO-SSO, {i|Sloan − i′}','LCO-SAAO, {i|Sloan − i′}','LCO-SAAO, {i|Sloan − i}','LCO-SAAO, {i|Sloan − r′}'];

// ---------------- BUILD ----------------
const colors = ['#fbb32f','#fbb32f','#f28a3f','#f28a3f','#f2873d','#d9485f','#b4318d','#9a1ea1','#8c14a7','#8a13a8','#6318ab'];
const sets = [
  [extra2T,extra2F,extra2E,extra2Gray.concat(extra2Gray2)],[extra3T,extra3F,extra3E,extra3Gray.concat(extra3Gray2)],
  [ioT,ioF,ioE,ioGray.concat(ioGray2)],[europaT,europaF,europaE,europaGray.concat(europaGray2)],[zsT,zsF,zsE,zsGray],
  [trapT,trapF,trapE,trapGray.concat(trapGray2)],[tessT,tessF,tessE,tessGray.concat(tessGray2)],[ssoT,ssoF,ssoE,ssoGray],
  [saaoIpT,saaoIpF,saaoIpE,saaoIpGray],[saaoIT,saaoIF,saaoIE,saaoIGray],[saaoRT,saaoRF,saaoRE,saaoRGray]
];
const labelOffset = 0.00245;
const FONT = "'Liberation Sans', Arial, sans-serif";
const ink = '#222';

const series = [];
sets.forEach((s) => {
  series.push({type:'scatter', data:s[3], symbolSize:5.5, itemStyle:{color:'#cbcbcb'}, z:1, silent:true, animation:false});
});
sets.forEach((s, k) => {
  const c = colors[k];
  modelSpread.forEach(m => {
    series.push({type:'line', data:modelT.map((t,i)=>[t, baselines[k] - depths[k]*m*modelShape[i]]),
      symbol:'none', showSymbol:false, smooth:0.25, smoothMonotone:'x',
      lineStyle:{color:c, width:1.6, opacity:0.42}, z:2, silent:true, animation:false});
  });
  series.push({type:'custom', data:s[0].map((t,i)=>[t, s[1][i], s[2][i]]), z:3, silent:true, animation:false,
    renderItem:(params, api) => {
      const x = api.value(0), y = api.value(1), e = api.value(2);
      const p1 = api.coord([x, y-e]), p2 = api.coord([x, y+e]);
      return {type:'line', shape:{x1:p1[0], y1:p1[1], x2:p2[0], y2:p2[1]}, style:{stroke:c, lineWidth:2.5}};
    }});
  series.push({type:'scatter', data:s[0].map((t,i)=>[t, s[1][i]]), symbol:'circle', symbolSize:11,
    itemStyle:{color:'#ffffff', borderColor:c, borderWidth:3}, z:4, silent:true, animation:false});
});
series.push({type:'scatter', symbolSize:0.1, itemStyle:{color:'transparent'}, z:10, silent:true, animation:false,
  data: labels.map((l,k)=>({name:l, value:[0, baselines[k] + labelOffset]})),
  label:{show:true, position:'inside', formatter:p=>p.name, color:ink, fontFamily:FONT, fontSize:18, lineHeight:20,
    backgroundColor:'#ffffff', borderColor:'#f3a2b6', borderWidth:1.2, borderRadius:5, padding:[5,8,5,8],
    rich:{i:{fontStyle:'italic', fontFamily:'DejaVu Sans', fontSize:17, lineHeight:20, color:ink}}}
});

const axisLine = {show:true, onZero:false, lineStyle:{color:ink, width:2}};
const xBase = {type:'value', min:xTickRange[0], max:xTickRange[1], interval:0.5, axisLine,
  axisTick:{show:true, inside:true, length:13, lineStyle:{color:ink, width:1.5}},
  minorTick:{show:true, splitNumber:5, length:6, lineStyle:{color:ink, width:1.3}},
  splitLine:{show:false}, minorSplitLine:{show:false}};
const yBase = {type:'value', min:0.89, max:1.007, interval:0.005, axisLine,
  axisTick:{show:true, inside:true, length:7, lineStyle:{color:ink, width:1.5}}, splitLine:{show:false}};
const yMajor = {type:'value', min:0.89, max:1.007, axisLine:{show:false, onZero:false},
  axisTick:{show:true, inside:true, length:13, customValues:yLabelTicks, lineStyle:{color:ink, width:1.5}},
  axisLabel:{show:false}, splitLine:{show:false}};

const option = {
  backgroundColor:'#ffffff',
  animation:false,
  grid:{left:85, right:16, top:8, bottom:52, containLabel:false, outerBoundsMode:'none'},
  xAxis:[
    Object.assign({}, xBase, {position:'bottom',
      axisLabel:{show:true, margin:7, color:ink, fontFamily:FONT, fontSize:22,
        formatter:v => (v < 0 ? '−' : '') + Math.abs(v).toFixed(1)},
      name:'T − T{s|0} (h)', nameLocation:'middle', nameGap:28, nameMoveOverlap:false,
      nameTextStyle:{color:ink, fontFamily:FONT, fontSize:22, lineHeight:24, verticalAlign:'top',
        rich:{s:{fontFamily:FONT, fontSize:15, lineHeight:24, color:ink, verticalAlign:'bottom'}}}}),
    Object.assign({}, xBase, {position:'top', axisLabel:{show:false}})
  ],
  yAxis:[
    Object.assign({}, yBase, {position:'left',
      axisLabel:{show:true, margin:6, color:ink, fontFamily:FONT, fontSize:22,
        formatter:v => { const r = Math.round(v*1000); return (r % 20 === 0) ? (r/1000).toFixed(2) : ''; }},
      name:'Relative Flux - Baseline - Offset', nameLocation:'middle', nameGap:55, nameRotate:90, nameMoveOverlap:false,
      nameTextStyle:{color:ink, fontFamily:FONT, fontSize:22}}),
    Object.assign({}, yBase, {position:'right', axisLabel:{show:false}}),
    Object.assign({}, yMajor, {position:'left'}),
    Object.assign({}, yMajor, {position:'right'})
  ],
  series
};
const chart = echarts.init(document.getElementById('c'), null, {renderer:'canvas'});
chart.setOption(option);
</script></body></html>
